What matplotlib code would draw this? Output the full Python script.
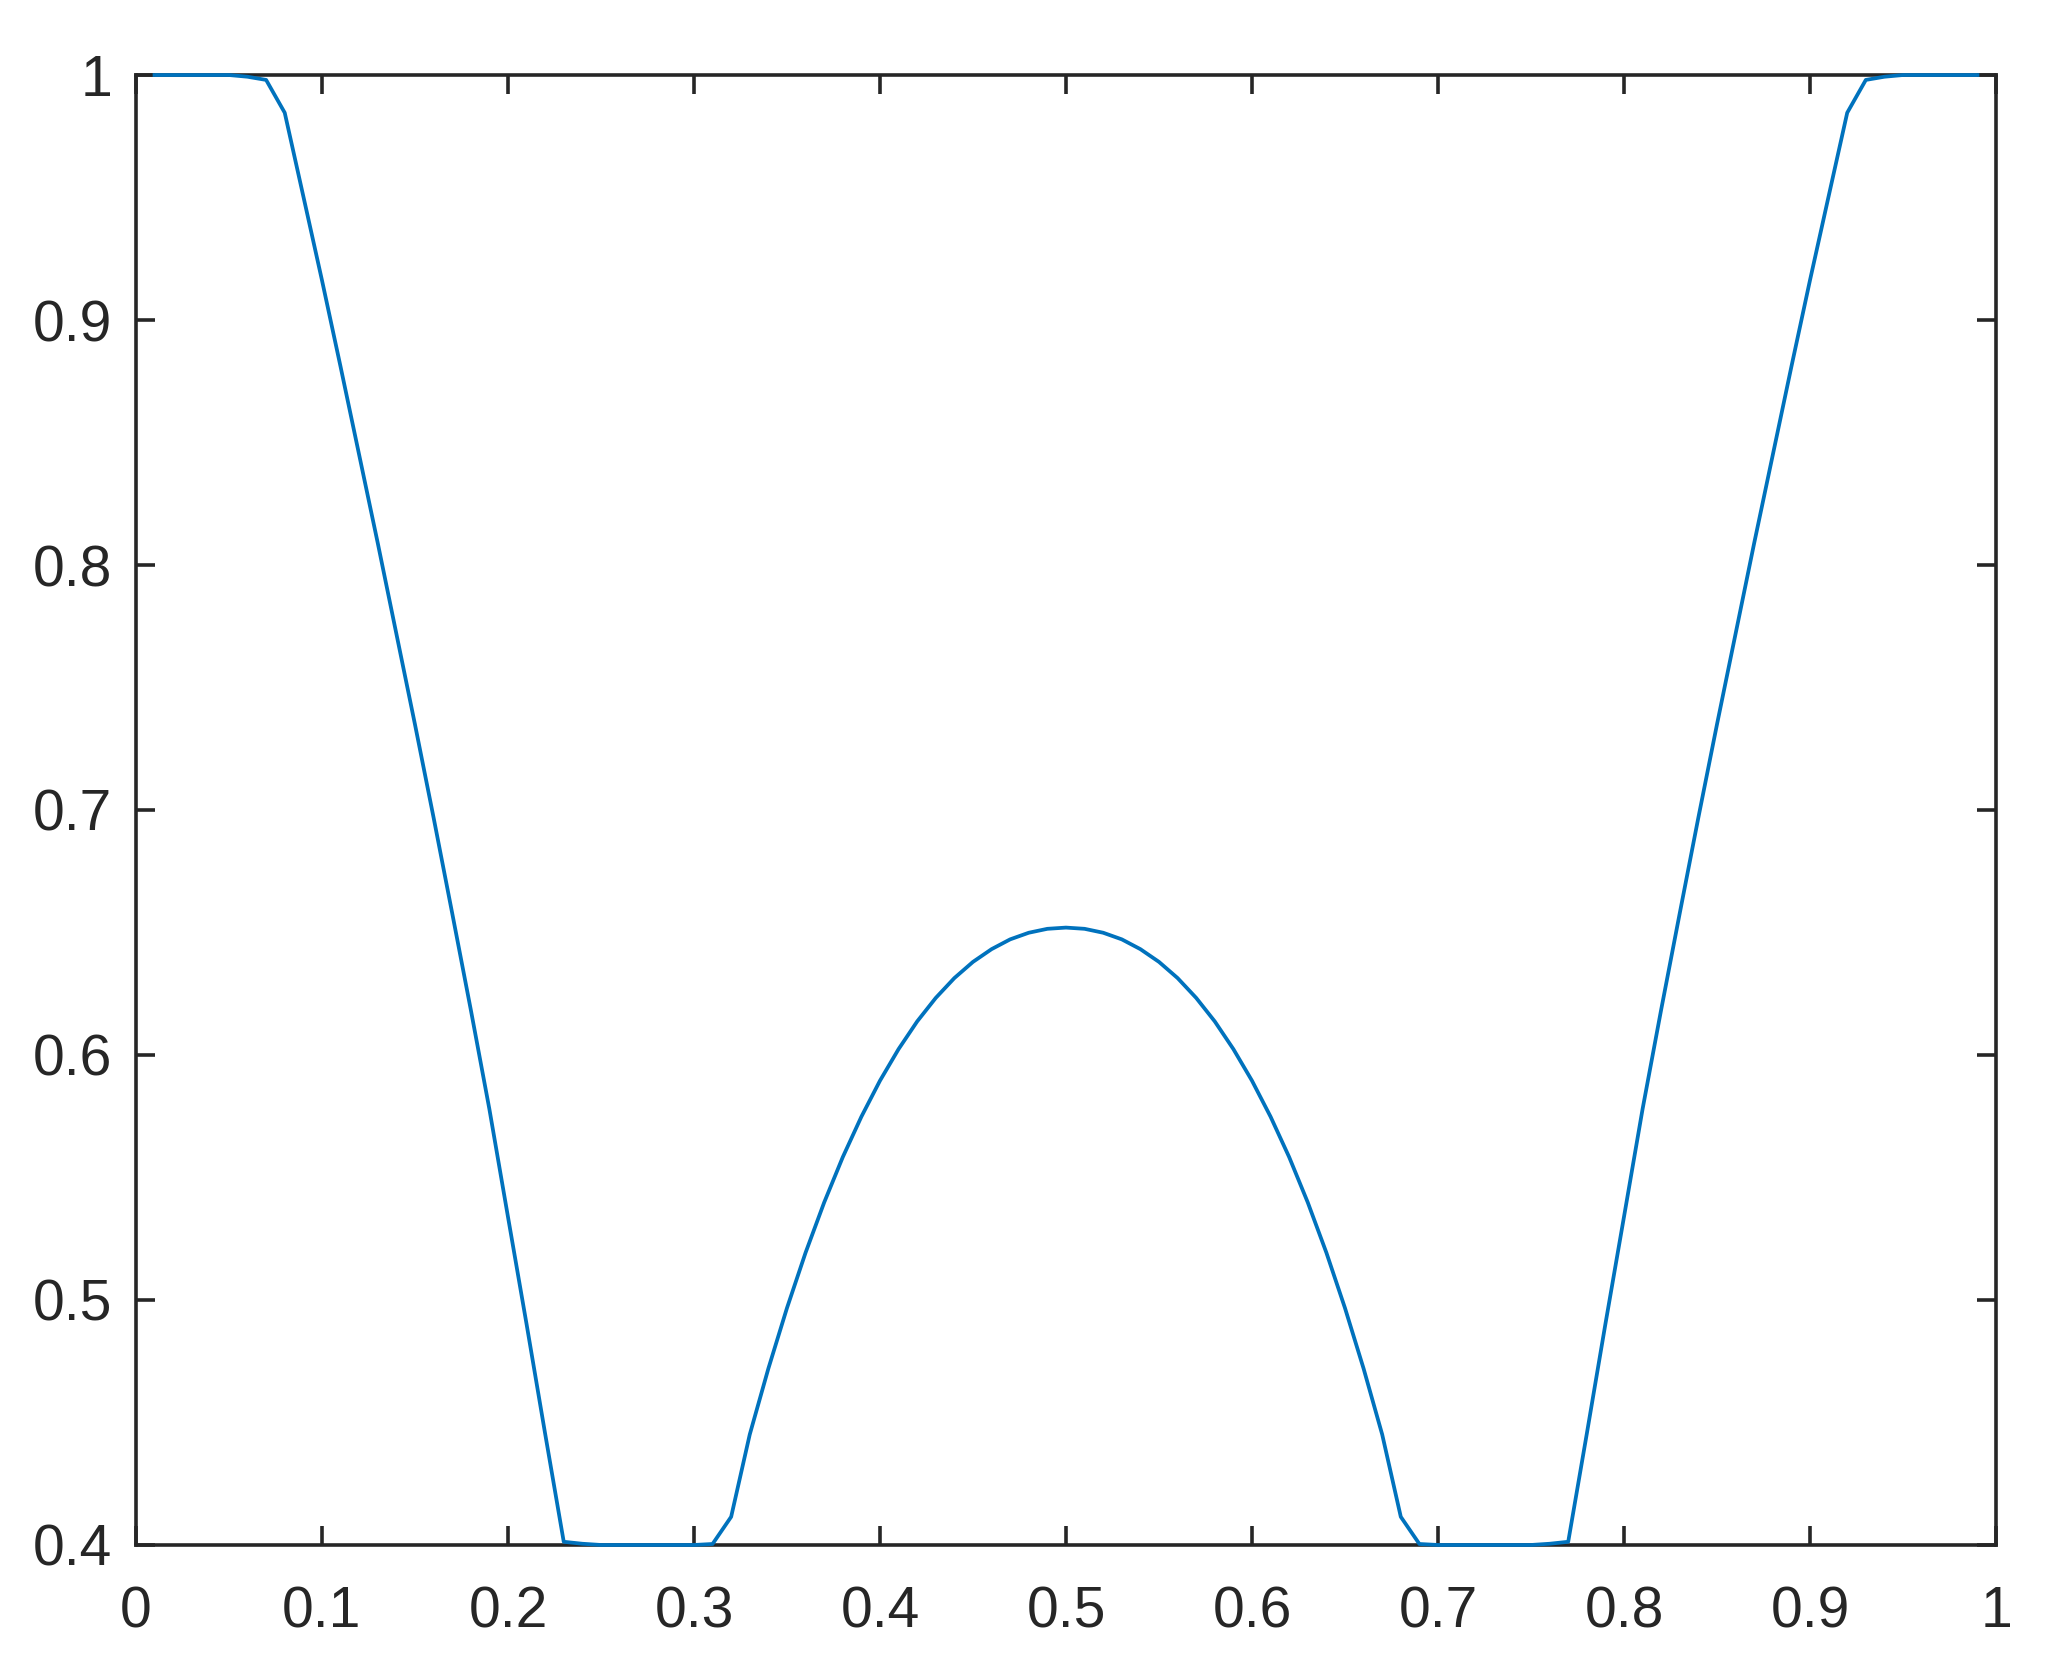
import matplotlib
matplotlib.use('Agg')
from matplotlib import pyplot as plt
from matplotlib.ticker import FuncFormatter
import numpy as np


x_left = [0.01, 0.02, 0.03, 0.04, 0.05, 0.06, 0.07, 0.08, 0.09, 0.10,
          0.11, 0.12, 0.13, 0.14, 0.15, 0.16, 0.17, 0.18, 0.19, 0.20,
          0.21, 0.22, 0.23, 0.24, 0.25, 0.26, 0.27, 0.28, 0.29, 0.30,
          0.31, 0.32, 0.33, 0.34, 0.35, 0.36, 0.37, 0.38, 0.39, 0.40,
          0.41, 0.42, 0.43, 0.44, 0.45, 0.46, 0.47, 0.48, 0.49, 0.50]
y_left = [1.0, 1.0, 1.0, 1.0, 1.0, 0.9993, 0.998, 0.9846, 0.9505, 0.9163,
          0.881, 0.845, 0.809, 0.772, 0.735, 0.697, 0.658, 0.6186, 0.578, 0.534,
          0.4902, 0.4454, 0.4013, 0.4005, 0.4, 0.4, 0.4, 0.4, 0.4, 0.4,
          0.4004, 0.4115, 0.4451, 0.472, 0.4967, 0.5193, 0.5398, 0.5583, 0.5748, 0.5895,
          0.6024, 0.6137, 0.6233, 0.6314, 0.638, 0.6432, 0.6472, 0.6499, 0.6515, 0.652]

# right half mirrors the left half
x_right = [0.51, 0.52, 0.53, 0.54, 0.55, 0.56, 0.57, 0.58, 0.59, 0.60,
           0.61, 0.62, 0.63, 0.64, 0.65, 0.66, 0.67, 0.68, 0.69, 0.70,
           0.71, 0.72, 0.73, 0.74, 0.75, 0.76, 0.77, 0.78, 0.79, 0.80,
           0.81, 0.82, 0.83, 0.84, 0.85, 0.86, 0.87, 0.88, 0.89, 0.90,
           0.91, 0.92, 0.93, 0.94, 0.95, 0.96, 0.97, 0.98, 0.99]
y_right = y_left[-2::-1]

x_ticks = [0, 0.1, 0.2, 0.3, 0.4, 0.5, 0.6, 0.7, 0.8, 0.9, 1]
y_ticks = [0.4, 0.5, 0.6, 0.7, 0.8, 0.9, 1]

x = np.array(x_left + x_right)
y = np.array(y_left + y_right)

plt.rcParams['font.family'] = ['Liberation Sans', 'DejaVu Sans']
dark = '#262626'

fig = plt.figure(figsize=(20.47, 16.67), dpi=100)
ax = fig.add_axes([0.0664, 0.0732, 0.9087, 0.8818])

ax.plot(x, y, color='#0072BD', linewidth=2.7, clip_on=False, zorder=5)

ax.set_xlim(0, 1)
ax.set_ylim(0.4, 1)
ax.set_xticks(x_ticks)
ax.set_yticks(y_ticks)
fmt = FuncFormatter(lambda v, p: '%g' % v)
ax.xaxis.set_major_formatter(fmt)
ax.yaxis.set_major_formatter(fmt)

for side in ['top', 'bottom', 'left', 'right']:
    ax.spines[side].set_color(dark)
    ax.spines[side].set_linewidth(2.6)

ax.tick_params(axis='both', direction='in', length=14, width=2.6,
               colors=dark, labelsize=41, top=True, right=True)
ax.tick_params(axis='x', pad=29)
ax.tick_params(axis='y', pad=17)

fig.savefig('out.png', dpi=100, facecolor='white')
